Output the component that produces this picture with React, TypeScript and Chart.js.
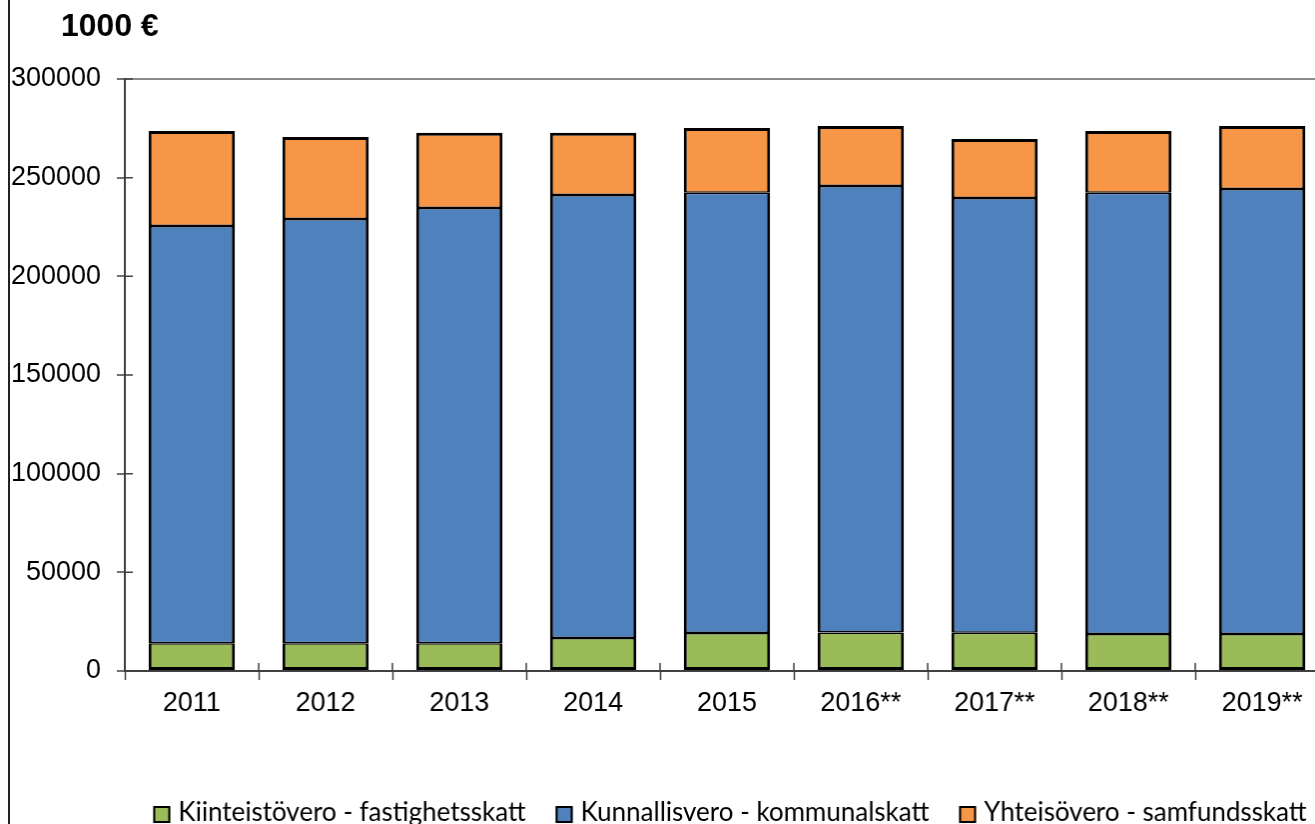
import { useEffect, useRef } from "react";
import { Chart, registerables } from "chart.js";

Chart.register(...registerables);

const years = ["2011", "2012", "2013", "2014", "2015", "2016**", "2017**", "2018**", "2019**"];
const kiinteistovero = [14000, 14000, 14000, 16700, 19300, 19500, 19400, 18800, 18800];
const kunnallisvero = [211500, 215100, 220600, 224500, 223000, 226300, 220300, 223500, 225500];
const yhteisovero = [48200, 41500, 38100, 31500, 32900, 30400, 29900, 31400, 31900];
const seriesLabels = [
  "Kiinteistövero - fastighetsskatt",
  "Kunnallisvero - kommunalskatt",
  "Yhteisövero - samfundsskatt",
];
const seriesColors = ["#9BBB59", "#4F81BD", "#F79646"];
const yMin = 0;
const yMax = 300000;
const yStep = 50000;
const unitTitle = "1000 €";

const axisFont = '"Liberation Sans", Arial, sans-serif';
const legendFont = 'Lato, "Noto Sans", sans-serif';

const extrasPlugin = {
  id: "extras",
  afterDraw(chart: any) {
    const { ctx, chartArea, scales } = chart;
    const xs = scales.x;
    const ys = scales.y;
    ctx.save();
    // inner halves of the crossing tick marks
    ctx.strokeStyle = "#404040";
    ctx.lineWidth = 1.5;
    ctx.beginPath();
    ys.ticks.forEach((_t: any, i: number) => {
      const py = ys.getPixelForTick(i);
      ctx.moveTo(chartArea.left, py);
      ctx.lineTo(chartArea.left + 8, py);
    });
    const n = xs.ticks.length;
    const step = (chartArea.right - chartArea.left) / n;
    for (let i = 0; i <= n; i++) {
      const px = chartArea.left + i * step;
      ctx.moveTo(px, chartArea.bottom - 8);
      ctx.lineTo(px, chartArea.bottom);
    }
    ctx.stroke();

    // unit title
    ctx.font = `bold 32px ${axisFont}`;
    ctx.fillStyle = "#000";
    ctx.textAlign = "left";
    ctx.textBaseline = "middle";
    ctx.fillText(unitTitle, chartArea.left - 64, chartArea.top - 52);

    // legend
    ctx.font = `26px ${legendFont}`;
    const box = 17;
    const gapText = 8;
    const gapItem = 30;
    const ds = chart.data.datasets;
    const widths = ds.map((d: any) => ctx.measureText(d.label).width);
    const total =
      widths.reduce((a: number, w: number) => a + box + gapText + w, 0) + gapItem * (ds.length - 1);
    let x = (chartArea.left + chartArea.right) / 2 + 3 - total / 2;
    const boxTop = chartArea.bottom + 135;
    const baseline = chartArea.bottom + 150;
    ds.forEach((d: any, i: number) => {
      ctx.fillStyle = d.backgroundColor;
      ctx.fillRect(x, boxTop, box, box);
      ctx.strokeStyle = "#000";
      ctx.lineWidth = 2;
      ctx.strokeRect(x + 1, boxTop + 1, box - 2, box - 2);
      ctx.fillStyle = "#000";
      ctx.textBaseline = "alphabetic";
      ctx.fillText(d.label, x + box + gapText, baseline);
      x += box + gapText + widths[i] + gapItem;
    });
    ctx.restore();
  },
};

export default function App() {
  const canvasRef = useRef<HTMLCanvasElement | null>(null);

  useEffect(() => {
    const canvas = canvasRef.current;
    if (!canvas) return;
    const barBase = {
      borderColor: "#000",
      borderSkipped: false as const,
      barPercentage: 0.645,
      categoryPercentage: 1,
    };
    const chart = new Chart(canvas, {
      type: "bar",
      data: {
        labels: years,
        datasets: [
          {
            ...barBase,
            label: seriesLabels[0],
            data: kiinteistovero,
            backgroundColor: seriesColors[0],
            borderWidth: { top: 1.5, bottom: 3, left: 3, right: 3 },
          },
          {
            ...barBase,
            label: seriesLabels[1],
            data: kunnallisvero,
            backgroundColor: seriesColors[1],
            borderWidth: { top: 1.5, bottom: 1.5, left: 3, right: 3 },
          },
          {
            ...barBase,
            label: seriesLabels[2],
            data: yhteisovero,
            backgroundColor: seriesColors[2],
            borderWidth: { top: 3, bottom: 1.5, left: 3, right: 3 },
          },
        ],
      },
      options: {
        animation: false,
        responsive: false,
        maintainAspectRatio: false,
        layout: { padding: { top: 79, right: 19, left: 0, bottom: 0 } },
        plugins: {
          legend: { display: false },
          tooltip: { enabled: false },
        },
        scales: {
          x: {
            stacked: true,
            offset: true,
            grid: {
              offset: true,
              color: "transparent",
              tickColor: "#404040",
              tickLength: 9,
              tickWidth: 1.5,
            },
            border: { display: true, color: "#404040", width: 2 },
            ticks: {
              color: "#000",
              padding: 7,
              font: { family: axisFont, size: 27 },
              maxRotation: 0,
            },
            afterFit(scale: any) {
              scale.height = 153;
            },
          },
          y: {
            stacked: true,
            min: yMin,
            max: yMax,
            grid: {
              color: (c: any) => (c.tick && c.tick.value === yMax ? "#8c8c8c" : "transparent"),
              lineWidth: 2,
              tickColor: "#404040",
              tickLength: 8,
              tickWidth: 1.5,
            },
            border: { display: true, color: "#404040", width: 2 },
            ticks: {
              stepSize: yStep,
              color: "#000",
              padding: 16,
              font: { family: axisFont, size: 27 },
              callback: (v: any) => String(v),
            },
            afterFit(scale: any) {
              scale.width = 115;
            },
          },
        },
      },
      plugins: [extrasPlugin],
    });
    return () => chart.destroy();
  }, []);

  return (
    <div
      style={{
        position: "fixed",
        left: 0,
        top: 0,
        width: 1315,
        height: 824,
        overflow: "hidden",
        background: "#fff",
      }}
    >
      <canvas
        ref={canvasRef}
        width={1340}
        height={824}
        style={{
          position: "absolute",
          left: 8,
          top: 0,
          width: 1340,
          height: 824,
          borderLeft: "2px solid #222",
        }}
      />
    </div>
  );
}
